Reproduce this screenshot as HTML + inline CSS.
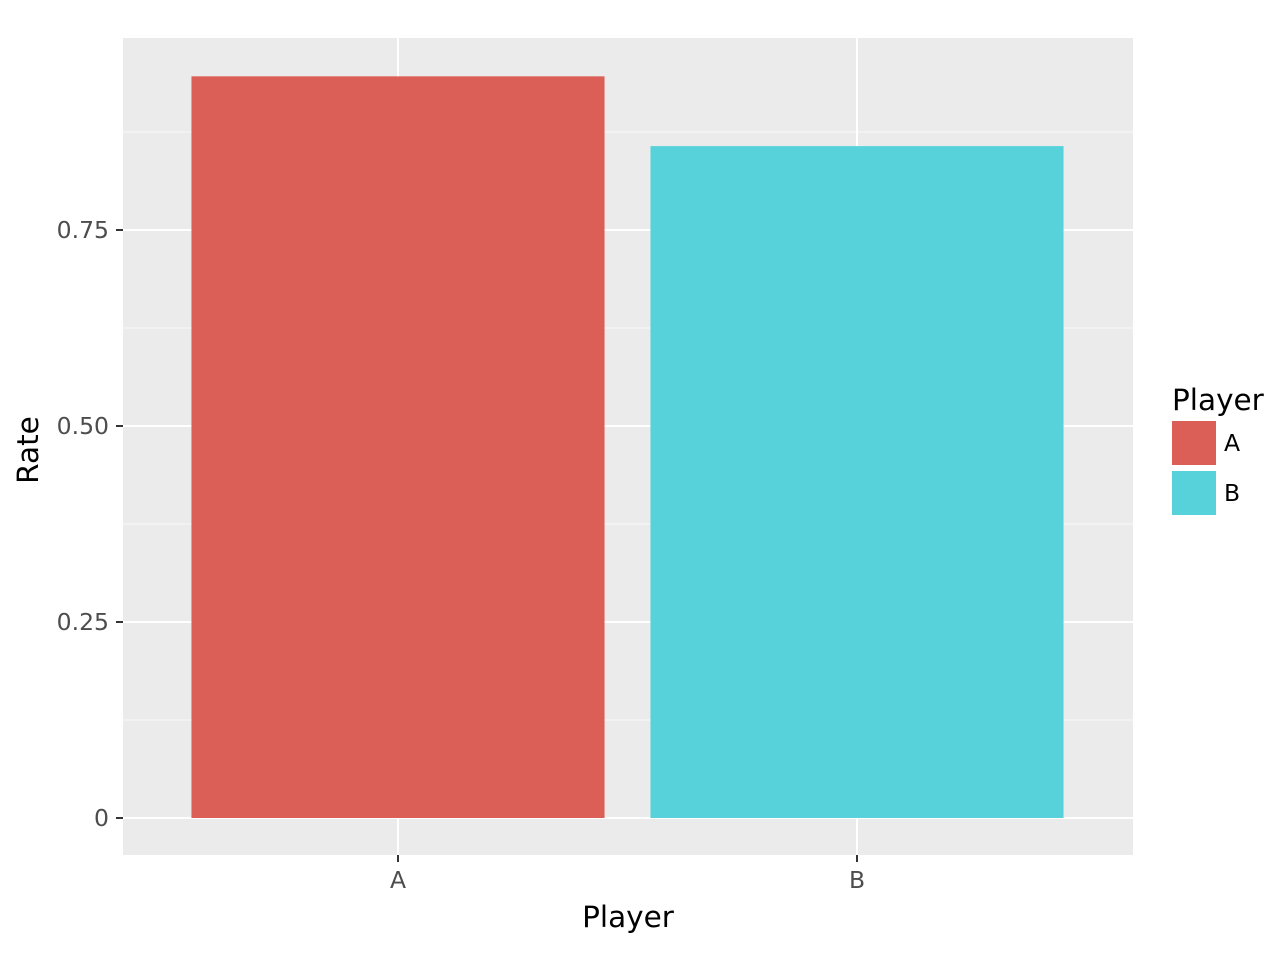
<!DOCTYPE html>
<html><head><meta charset="utf-8"><style>body{margin:0;background:#fff}svg{display:block}text{font-family:"DejaVu Sans","Liberation Sans",sans-serif}</style></head>
<body>
<svg id="chart" width="1280" height="960"></svg>
<script>
const categories = ["A","B"];
const rates = [0.946, 0.857];
const colors = ["#dc5f57","#58d2da"];
const yTicks = [0,0.25,0.5,0.75];
const yTickLabels = ["0","0.25","0.50","0.75"];
const NS="http://www.w3.org/2000/svg";
const svg=document.getElementById('chart');
const L=123,R=1133,T=38,B=855;
const y0=818, pxPerUnit=784;
function y(v){return y0-v*pxPerUnit;}
const band=459, x0=398;
function x(i){return x0+i*band;}
function mk(t,a,p){const e=document.createElementNS(NS,t);for(const k in a)e.setAttribute(k,a[k]);(p||svg).appendChild(e);return e;}
const panel=mk('rect',{x:L,y:T,width:R-L,height:B-T,fill:'#ebebeb'});


for(let i=0;i<yTicks.length;i++){const v=yTicks[i]+0.125;const g=mk('line',{x1:L,x2:R,y1:y(v),y2:y(v),stroke:'#fff','stroke-width':0.8});

}
yTicks.forEach((v,i)=>{
const g=mk('line',{x1:L,x2:R,y1:y(v),y2:y(v),stroke:'#fff','stroke-width':2});


const tk=mk('line',{x1:116,x2:123,y1:y(v),y2:y(v),stroke:'#333','stroke-width':2});


const t=mk('text',{x:109,y:y(v)+8,'text-anchor':'end','font-size':23.5,fill:'#4d4d4d'});t.textContent=yTickLabels[i];


});
categories.forEach((c,i)=>{
const g=mk('line',{x1:x(i),x2:x(i),y1:T,y2:B,stroke:'#fff','stroke-width':2});


});
categories.forEach((c,i)=>{
const w=band*0.9;
const b=mk('rect',{x:x(i)-w/2,y:y(rates[i]),width:w,height:y(0)-y(rates[i]),fill:colors[i]});


const tk=mk('line',{x1:x(i),x2:x(i),y1:855,y2:862,stroke:'#333','stroke-width':2});


const t=mk('text',{x:x(i),y:888,'text-anchor':'middle','font-size':23.5,fill:'#4d4d4d'});t.textContent=c;


const k=mk('rect',{x:1172,y:421+i*50,width:44,height:44,fill:colors[i]});


const lt=mk('text',{x:1224,y:451+i*50,'font-size':23.5,fill:'#000'});lt.textContent=c;


});
const xt=mk('text',{x:628,y:927,'text-anchor':'middle','font-size':29.5,fill:'#000'});xt.textContent='Player';


const yt=mk('text',{x:0,y:0,'text-anchor':'middle','font-size':29.5,fill:'#000',transform:'translate(38,450) rotate(-90)'});yt.textContent='Rate';


const lg=mk('text',{x:1172,y:410,'font-size':29.5,fill:'#000'});lg.textContent='Player';


</script>
</body></html>
